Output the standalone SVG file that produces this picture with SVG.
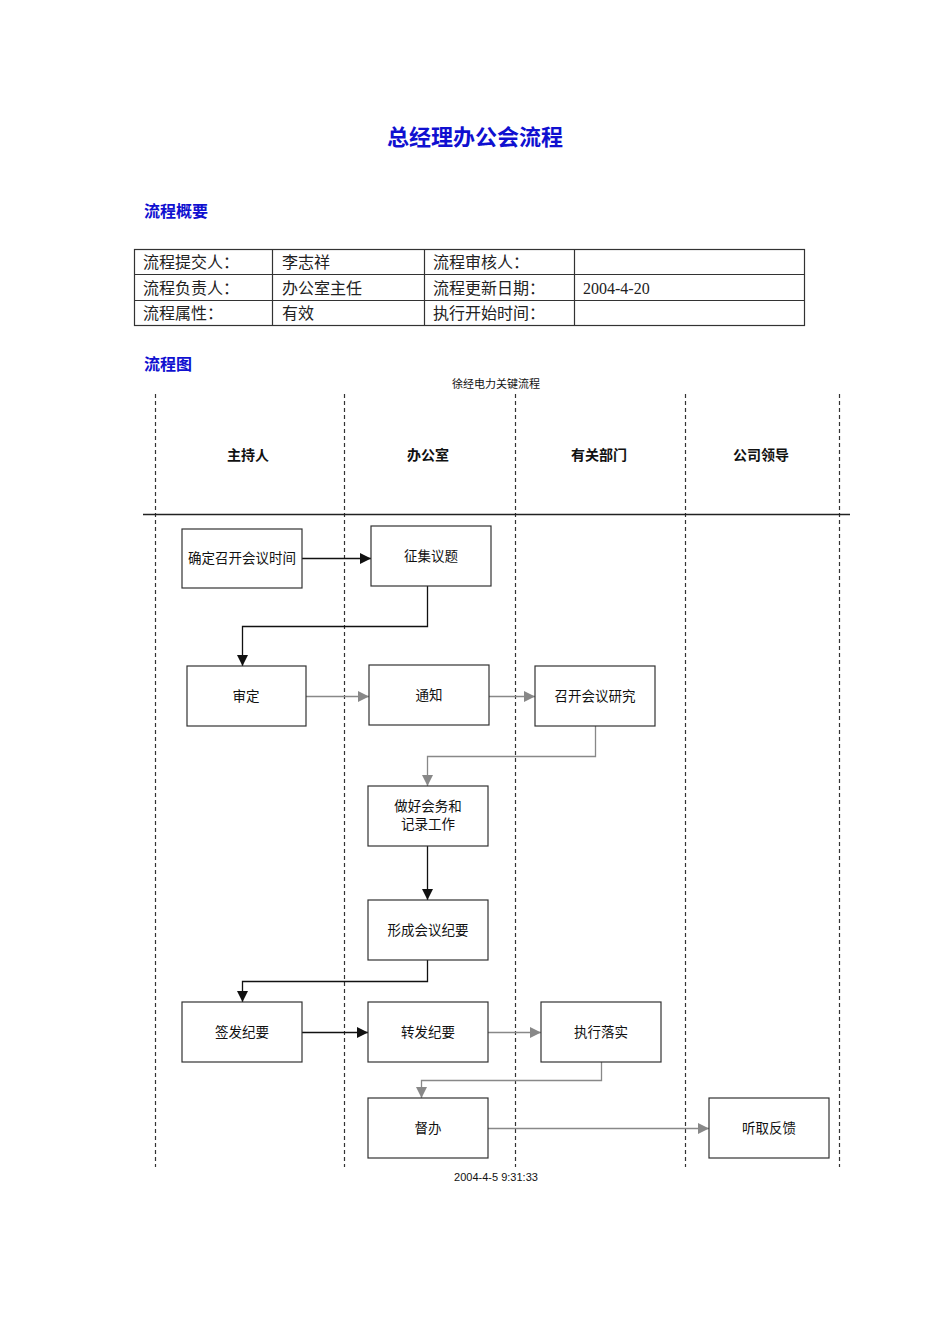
<svg xmlns="http://www.w3.org/2000/svg" width="950" height="1344" viewBox="0 0 950 1344">
<defs>
<style>
.title{font-family:"Noto Sans CJK SC",sans-serif;font-weight:bold;fill:#1010d0;}
.tbl{font-family:"Liberation Serif","Noto Sans CJK SC",serif;font-size:16px;fill:#222;}
.lane{font-family:"Noto Sans CJK SC",sans-serif;font-weight:bold;font-size:14px;fill:#111;text-anchor:middle;}
.small{font-family:"Liberation Sans","Noto Sans CJK SC",sans-serif;font-size:11px;fill:#111;text-anchor:middle;}
.box rect{fill:#fff;stroke:#333;stroke-width:1.2;}
.box text{font-family:"Noto Sans CJK SC",sans-serif;font-size:13.5px;fill:#111;text-anchor:middle;}
.dash{stroke:#333;stroke-width:1.2;stroke-dasharray:4,3;fill:none;}
.blk{stroke:#111;stroke-width:1.3;fill:none;marker-end:url(#ab);}
.gry{stroke:#888;stroke-width:1.3;fill:none;marker-end:url(#ag);}
</style>
<marker id="ab" viewBox="0 0 10 10" refX="10" refY="5" markerWidth="11" markerHeight="12" markerUnits="userSpaceOnUse" orient="auto"><path d="M0,0 L10,5 L0,10 z" fill="#111"/></marker>
<marker id="ag" viewBox="0 0 10 10" refX="10" refY="5" markerWidth="11" markerHeight="12" markerUnits="userSpaceOnUse" orient="auto"><path d="M0,0 L10,5 L0,10 z" fill="#888"/></marker>
</defs>
<rect width="950" height="1344" fill="#fff"/>
<text class="title" x="475" y="145" font-size="22" text-anchor="middle">总经理办公会流程</text>
<text class="title" x="144" y="217" font-size="16">流程概要</text>
<g id="table">
<rect x="134.5" y="249.5" width="670" height="76" fill="none" stroke="#333" stroke-width="1.2"/>
<path d="M134 274.5H805M134 300.5H805M272.5 249V326M424.5 249V326M574.5 249V326" stroke="#333" stroke-width="1.2"/>
<text class="tbl" x="143" y="268">流程提交人：</text>
<text class="tbl" x="282" y="268">李志祥</text>
<text class="tbl" x="433" y="268">流程审核人：</text>
<text class="tbl" x="143" y="294">流程负责人：</text>
<text class="tbl" x="282" y="294">办公室主任</text>
<text class="tbl" x="433" y="294">流程更新日期：</text>
<text class="tbl" x="583" y="294">2004-4-20</text>
<text class="tbl" x="143" y="319">流程属性：</text>
<text class="tbl" x="282" y="319">有效</text>
<text class="tbl" x="433" y="319">执行开始时间：</text>
</g>
<text class="title" x="144" y="370" font-size="16">流程图</text>
<text class="small" x="496" y="388">徐经电力关键流程</text>
<g id="lanes">
<path class="dash" d="M155.5 394V1167M344.5 394V1167M515.5 394V1167M685.5 394V1167M839.5 394V1167"/>
<path d="M143 514.5H850" stroke="#222" stroke-width="1.3"/>
<text class="lane" x="248" y="460">主持人</text>
<text class="lane" x="428" y="460">办公室</text>
<text class="lane" x="599" y="460">有关部门</text>
<text class="lane" x="761" y="460">公司领导</text>
</g>
<g id="connectors">
<path class="blk" d="M302 558.5H371"/>
<path class="blk" d="M427.5 586V626.5H242.5V666"/>
<path class="gry" d="M306 696.5H369"/>
<path class="gry" d="M489 696.5H535"/>
<path class="gry" d="M595.5 726V756.5H427.5V786"/>
<path class="blk" d="M427.5 846V900"/>
<path class="blk" d="M427.5 960V981.5H242.5V1002"/>
<path class="blk" d="M302 1032.5H368"/>
<path class="gry" d="M488 1032.5H541"/>
<path class="gry" d="M601.5 1062V1080.5H421.5V1098"/>
<path class="gry" d="M488 1128.5H709"/>
</g>
<g id="n1" class="box"><rect x="182" y="529" width="120" height="59"/><text x="242" y="563">确定召开会议时间</text></g>
<g id="n2" class="box"><rect x="371" y="526" width="120" height="60"/><text x="431" y="561">征集议题</text></g>
<g id="n3" class="box"><rect x="187" y="666" width="119" height="60"/><text x="246" y="701">审定</text></g>
<g id="n4" class="box"><rect x="369" y="665" width="120" height="60"/><text x="429" y="700">通知</text></g>
<g id="n5" class="box"><rect x="535" y="666" width="120" height="60"/><text x="595" y="701">召开会议研究</text></g>
<g id="n6" class="box"><rect x="368" y="786" width="120" height="60"/><text x="428" y="811" font-size="13">做好会务和</text><text x="428" y="829" font-size="13">记录工作</text></g>
<g id="n7" class="box"><rect x="368" y="900" width="120" height="60"/><text x="428" y="935">形成会议纪要</text></g>
<g id="n8" class="box"><rect x="182" y="1002" width="120" height="60"/><text x="242" y="1037">签发纪要</text></g>
<g id="n9" class="box"><rect x="368" y="1002" width="120" height="60"/><text x="428" y="1037">转发纪要</text></g>
<g id="n10" class="box"><rect x="541" y="1002" width="120" height="60"/><text x="601" y="1037">执行落实</text></g>
<g id="n11" class="box"><rect x="368" y="1098" width="120" height="60"/><text x="428" y="1133">督办</text></g>
<g id="n12" class="box"><rect x="709" y="1098" width="120" height="60"/><text x="769" y="1133">听取反馈</text></g>
<text class="small" x="496" y="1181">2004-4-5 9:31:33</text>
</svg>
